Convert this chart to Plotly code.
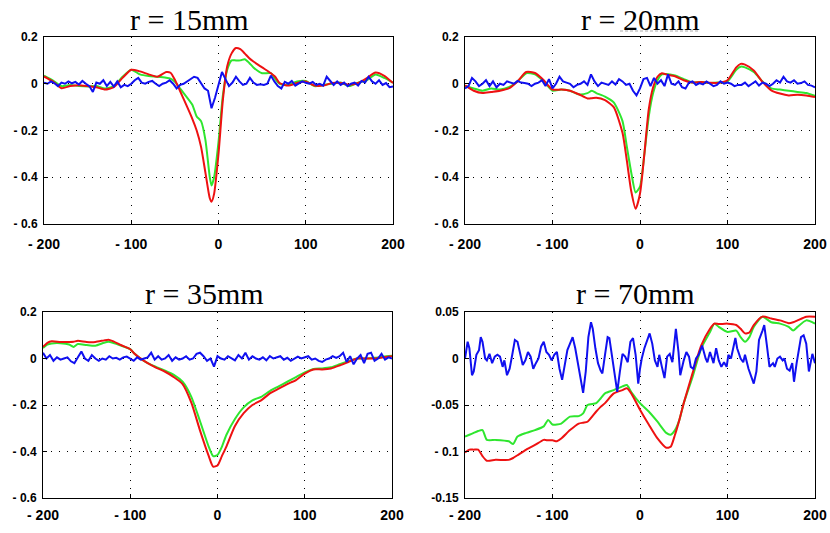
import numpy as np
import plotly.graph_objects as go

W, H = 830, 533

# ---------------- data ----------------
titles = ["r = 15mm", "r = 20mm", "r = 35mm", "r = 70mm"]

# r = 15mm
x15 = [-200, -190, -180, -170, -160, -150, -140, -130, -120, -110, -100, -90, -80, -70, -60, -55, -50,
       -40, -30, -25, -20, -15, -10, -8, -5, 0, 5, 10, 15, 20, 25, 30, 35, 40, 50, 60, 65, 70, 80, 90,
       100, 110, 120, 130, 140, 150, 160, 170, 180, 190, 200]
red15 = [0.031, 0.01, -0.019, -0.01, -0.006, -0.01, -0.015, -0.025, -0.015, 0.025, 0.06, 0.053, 0.04,
         0.03, 0.05, 0.047, 0.017, -0.065, -0.15, -0.2, -0.27, -0.38, -0.49, -0.505, -0.47, -0.3, -0.07,
         0.075, 0.13, 0.153, 0.148, 0.13, 0.11, 0.095, 0.07, 0.045, 0.03, 0.003, -0.008, 0.003, 0.01,
         -0.008, -0.008, 0.003, 0.003, -0.004, 0.003, 0.024, 0.048, 0.034, 0.003]
green15 = [0.035, 0.015, -0.01, -0.005, -0.01, -0.012, -0.01, -0.02, -0.01, 0.03, 0.06, 0.04, 0.033,
           0.03, 0.026, 0.022, 0.008, -0.04, -0.09, -0.14, -0.16, -0.24, -0.40, -0.435, -0.40, -0.25,
           -0.05, 0.06, 0.1, 0.1, 0.1, 0.105, 0.09, 0.07, 0.045, 0.045, 0.02, 0.0, -0.005, 0.01, 0.012,
           -0.01, -0.005, 0.0, 0.005, -0.01, 0.005, 0.015, 0.04, 0.025, 0.005]
blue15 = [0.005, 0.0, 0.01, 0.002, -0.01, 0.005, 0.0, 0.01, 0.002, 0.008, -0.003, 0.012, 0.0, -0.01,
          -0.035, 0.005, 0.0, 0.015, -0.01, 0.008, -0.012, 0.01, -0.015, -0.005, -0.01, 0.0, 0.015,
          0.025, 0.005, 0.0, 0.008, 0.012, 0.0, -0.01, 0.0, 0.005, 0.015, 0.0, -0.02, -0.005, 0.0, 0.01,
          0.022, 0.03, 0.025, 0.0, -0.02, -0.03, -0.105, -0.06, 0.0, 0.05, 0.02, -0.01, 0.005, 0.03,
          0.01, -0.005, 0.0, 0.025, 0.005, -0.005, -0.002, -0.005, 0.0, 0.035, 0.01, -0.01, -0.02, 0.008,
          0.0, 0.012, -0.008, 0.0, 0.01, 0.004, 0.0, 0.008, -0.005, 0.0, -0.008, 0.03, 0.01, -0.005,
          0.01, -0.005, 0.005, -0.01, 0.0, 0.005, -0.008, 0.012, 0.005, 0.03, 0.01, 0.0, 0.015, -0.005,
          0.003, -0.015, -0.012]

# r = 20mm
x20 = [-200, -190, -180, -170, -160, -150, -140, -130, -120, -110, -100, -90, -80, -70, -60, -55, -50,
       -40, -30, -20, -15, -10, -5, 0, 5, 10, 15, 20, 25, 30, 40, 50, 60, 70, 80, 90, 100, 110, 115,
       120, 130, 140, 150, 160, 170, 180, 190, 200]
red20 = [-0.007, -0.03, -0.04, -0.035, -0.03, -0.02, 0.01, 0.05, 0.046, 0.015, -0.025, -0.025, -0.03,
         -0.045, -0.063, -0.062, -0.06, -0.07, -0.1, -0.21, -0.33, -0.46, -0.535, -0.47, -0.3, -0.11,
         -0.015, 0.03, 0.045, 0.04, 0.032, 0.015, 0.005, 0.007, 0.004, 0.004, 0.015, 0.07, 0.085, 0.082,
         0.057, 0.008, -0.028, -0.042, -0.05, -0.047, -0.05, -0.057]
green20 = [-0.01, -0.02, -0.03, -0.02, -0.025, -0.015, 0.01, 0.045, 0.04, 0.01, -0.03, -0.025, -0.03,
           -0.045, -0.04, -0.03, -0.04, -0.055, -0.08, -0.16, -0.27, -0.38, -0.465, -0.44, -0.3, -0.14,
           -0.04, 0.015, 0.04, 0.042, 0.035, 0.02, 0.005, 0.008, 0.003, 0.005, 0.01, 0.06, 0.073, 0.07,
           0.05, 0.01, -0.02, -0.025, -0.03, -0.035, -0.04, -0.052]
blue20 = [-0.02, -0.01, 0.025, 0.01, -0.01, 0.0, 0.015, -0.01, 0.01, -0.015, 0.0, -0.005, 0.01, 0.005,
          0.0, 0.012, 0.005, 0.003, 0.0, -0.01, 0.0, 0.005, 0.015, -0.01, 0.02, -0.02, 0.0, 0.03, 0.01,
          0.005, 0.0, -0.015, -0.005, 0.0, 0.01, -0.005, 0.04, 0.01, -0.01, 0.005, 0.0, -0.005, 0.01,
          -0.003, 0.02, 0.01, -0.005, 0.0, -0.03, -0.05, -0.02, 0.02, 0.025, -0.01, 0.025, 0.0, 0.015,
          -0.01, 0.04, 0.0, -0.005, 0.01, -0.015, -0.02, 0.005, 0.01, -0.005, 0.003, -0.003, 0.01, 0.0,
          -0.01, -0.005, 0.01, 0.0, 0.005, 0.0, -0.01, -0.005, -0.005, 0.005, -0.01, 0.0, 0.01, -0.008,
          0.005, 0.0, -0.01, 0.0, 0.015, 0.005, 0.03, 0.01, 0.005, 0.015, 0.0, 0.003, 0.01, -0.005,
          -0.008, -0.015]

# r = 35mm
x35 = [-200, -195, -190, -180, -170, -165, -160, -150, -140, -130, -125, -120, -110, -100, -95, -90,
       -80, -70, -60, -50, -40, -30, -20, -10, -5, 0, 5, 10, 20, 30, 40, 50, 60, 70, 80, 90, 100, 110,
       120, 130, 140, 150, 160, 170, 180, 190, 200]
red35 = [0.05, 0.067, 0.074, 0.071, 0.071, 0.072, 0.076, 0.071, 0.071, 0.078, 0.081, 0.075, 0.057, 0.04,
         0.02, 0.005, -0.02, -0.04, -0.057, -0.08, -0.11, -0.19, -0.31, -0.42, -0.465, -0.46, -0.42,
         -0.38, -0.29, -0.235, -0.2, -0.18, -0.15, -0.13, -0.11, -0.093, -0.065, -0.047, -0.047, -0.043,
         -0.03, -0.015, 0.0, 0.0, 0.0, 0.005, 0.01]
green35 = [0.045, 0.06, 0.065, 0.066, 0.06, 0.05, 0.062, 0.058, 0.055, 0.068, 0.072, 0.068, 0.055, 0.04,
           0.02, 0.005, -0.02, -0.037, -0.052, -0.07, -0.1, -0.165, -0.27, -0.38, -0.42, -0.415, -0.38,
           -0.33, -0.26, -0.21, -0.18, -0.165, -0.14, -0.12, -0.1, -0.08, -0.06, -0.045, -0.043, -0.038,
           -0.025, -0.012, 0.0, 0.0, 0.003, 0.008, 0.012]
blue35 = [0.025, 0.0, 0.015, -0.01, 0.005, -0.005, 0.0, 0.005, -0.012, -0.02, 0.005, 0.03, 0.0, -0.01,
          0.015, 0.0, -0.01, 0.0, -0.005, 0.01, 0.0, 0.003, -0.005, 0.005, 0.008, 0.0, -0.01, 0.005,
          -0.005, 0.0, 0.005, 0.025, -0.005, 0.01, -0.005, 0.0, 0.015, -0.01, 0.005, -0.005, 0.0, 0.01,
          -0.005, 0.0, 0.02, 0.025, 0.01, -0.01, 0.0, -0.035, 0.01, 0.0, -0.005, 0.01, 0.0, -0.008, 0.015,
          0.0, 0.025, -0.005, 0.01, 0.0, -0.005, 0.005, -0.008, 0.01, 0.0, 0.005, 0.01, -0.005, 0.003,
          -0.01, 0.0, 0.008, 0.0, 0.005, 0.01, -0.005, 0.0, -0.01, -0.015, -0.005, 0.0, 0.01, 0.003, 0.01,
          0.025, -0.015, 0.01, -0.025, 0.0, 0.015, -0.02, 0.02, 0.025, -0.01, 0.0, 0.02, -0.005, 0.005,
          0.0]

# r = 70mm
x70 = [-200, -195, -190, -185, -180, -175, -165, -150, -145, -140, -130, -120, -110, -105, -100, -95,
       -90, -80, -70, -65, -60, -50, -45, -40, -30, -20, -15, -10, 0, 10, 20, 30, 35, 40, 45, 50, 60,
       70, 80, 85, 90, 100, 110, 115, 120, 125, 130, 140, 150, 160, 170, 175, 180, 190, 200]
red70 = [-0.101, -0.098, -0.098, -0.098, -0.105, -0.11, -0.109, -0.109, -0.107, -0.104, -0.098, -0.093,
         -0.0875, -0.088, -0.088, -0.089, -0.086, -0.077, -0.07, -0.069, -0.068, -0.057, -0.052, -0.048,
         -0.0375, -0.034, -0.032, -0.0375, -0.055, -0.071, -0.086, -0.096, -0.095, -0.082, -0.066,
         -0.048, -0.016, 0.014, 0.032, 0.0375, 0.037, 0.0375, 0.036, 0.032, 0.027, 0.028, 0.036, 0.045,
         0.043, 0.041, 0.038, 0.039, 0.041, 0.045, 0.045]
green70 = [-0.084, -0.082, -0.08, -0.078, -0.077, -0.0875, -0.0875, -0.089, -0.092, -0.084, -0.08,
           -0.077, -0.073, -0.066, -0.071, -0.071, -0.07, -0.0625, -0.062, -0.059, -0.05, -0.048, -0.043,
           -0.0375, -0.034, -0.03, -0.0285, -0.036, -0.048, -0.057, -0.068, -0.08, -0.082, -0.077,
           -0.066, -0.048, -0.02, 0.011, 0.0285, 0.0375, 0.034, 0.0285, 0.03, 0.023, 0.018, 0.023, 0.034,
           0.045, 0.039, 0.0375, 0.034, 0.03, 0.034, 0.041, 0.0375]
xb70 = [-200, -197, -195, -192, -190, -187, -184, -182, -180, -177, -175, -172, -169, -166, -163, -160,
        -157, -155, -152, -149, -146, -143, -140, -137, -134, -131, -128, -125, -122, -119, -116, -113,
        -110, -107, -104, -101, -98, -95, -92, -89, -86, -83, -80, -77, -74, -71, -68, -65, -62, -59,
        -56, -54, -51, -48, -45, -43, -40, -37, -35, -32, -29, -26, -23, -20, -17, -14, -11, -8, -5, -2,
        0, 2, 5, 8, 11, 14, 17, 20, 22, 25, 28, 31, 34, 37, 39, 41, 44, 46, 50, 53, 56, 58, 61, 64, 67,
        71, 75, 77, 80, 84, 87, 90, 93, 96, 99, 101, 104, 107, 109, 111, 115, 118, 120, 124, 128, 130,
        133, 136, 140, 142, 145, 148, 152, 154, 157, 160, 163, 165, 168, 171, 174, 176, 179, 182, 184,
        187, 190, 193, 195, 197, 200]
blue70 = [0.0, 0.018, 0.011, -0.018, -0.014, 0.004, 0.009, 0.023, 0.018, 0.0, -0.002, 0.005, -0.005,
          0.002, 0.004, 0.002, -0.009, -0.002, -0.018, -0.011, 0.004, 0.02, 0.018, 0.007, -0.007, -0.002,
          0.007, 0.002, -0.011, -0.005, 0.0, 0.013, 0.018, 0.007, 0.004, -0.002, 0.004, 0.007, -0.011,
          -0.023, -0.007, 0.009, 0.016, 0.023, 0.011, -0.005, -0.018, -0.037, -0.014, 0.023, 0.039,
          0.032, 0.011, -0.005, -0.013, -0.016, 0.004, 0.023, 0.022, 0.004, -0.013, -0.036, -0.014, 0.005,
          0.002, -0.004, 0.018, 0.022, 0.004, -0.027, -0.011, 0.0, 0.011, 0.02, 0.027, 0.016, -0.002,
          -0.009, 0.004, -0.009, -0.021, 0.002, 0.005, -0.004, 0.013, 0.032, 0.007, -0.018, -0.002, 0.007,
          0.002, -0.009, -0.011, 0.0, 0.004, 0.014, 0.0, -0.004, 0.007, -0.005, 0.011, -0.002, -0.009,
          -0.004, -0.009, 0.004, 0.0, 0.014, 0.022, 0.011, 0.0, -0.004, 0.004, -0.011, -0.023, -0.027,
          -0.014, 0.02, 0.03, 0.036, 0.014, -0.009, -0.005, -0.009, 0.0, 0.002, -0.002, 0.0, -0.011,
          -0.013, -0.005, -0.025, -0.005, 0.014, 0.023, 0.025, 0.016, -0.014, -0.004, 0.005, -0.005]

# tick values / labels
xtick_vals = [-200, -100, 0, 100, 200]
xtick_text = ["- 200", "- 100", "0", "100", "200"]
ytick_vals_a = [0.2, 0, -0.2, -0.4, -0.6]
ytick_text_a = ["0.2", "0", "- 0.2", "- 0.4", "- 0.6"]
ytick_vals_b = [0.05, 0, -0.05, -0.1, -0.15]
ytick_text_b = ["0.05", "0", "-0.05", "- 0.1", "-0.15"]

RED, GREEN, BLUE = "#ee1111", "#2ee62e", "#1010f0"

# ---------------- layout (pixel boxes of the plot areas) ----------------
boxes = [(44, 393, 37, 224), (465, 815, 37, 224), (43, 392, 312, 498), (465, 815, 312, 498)]
title_pos = [(189, 19), (640, 19), (204, 293), (635, 293)]
xlabel_standoff = [7, 7, 4, 4]

panels = [
    (x15, red15, green15, np.linspace(-200, 200, len(blue15)), blue15, ytick_vals_a, ytick_text_a, [-0.6, 0.2]),
    (x20, red20, green20, np.linspace(-200, 200, len(blue20)), blue20, ytick_vals_a, ytick_text_a, [-0.6, 0.2]),
    (x35, red35, green35, np.linspace(-200, 200, len(blue35)), blue35, ytick_vals_a, ytick_text_a, [-0.6, 0.2]),
    (x70, red70, green70, xb70, blue70, ytick_vals_b, ytick_text_b, [-0.15, 0.05]),
]

fig = go.Figure()
layout = dict(width=W, height=H, margin=dict(l=0, r=0, t=0, b=0, autoexpand=False),
              paper_bgcolor="white", plot_bgcolor="white", showlegend=False,
              font=dict(family="Liberation Sans, Arial", size=12, color="black"))
annotations = []
ytick_font = dict(family="Liberation Sans, Arial", size=12, color="black", weight="bold")
xtick_font = dict(family="Liberation Sans, Arial", size=14, color="black", weight="bold")

for i, (xr, r, g, xb, b, yv, yt, yr) in enumerate(panels):
    n = "" if i == 0 else str(i + 1)
    xa, ya = "x" + n, "y" + n
    fig.add_trace(go.Scatter(x=xr, y=g, mode="lines", line=dict(color=GREEN, width=2, shape="spline", smoothing=0.6),
                             xaxis=xa, yaxis=ya, hoverinfo="skip"))
    fig.add_trace(go.Scatter(x=xr, y=r, mode="lines", line=dict(color=RED, width=2, shape="spline", smoothing=0.6),
                             xaxis=xa, yaxis=ya, hoverinfo="skip"))
    fig.add_trace(go.Scatter(x=xb, y=b, mode="lines", line=dict(color=BLUE, width=2),
                             xaxis=xa, yaxis=ya, hoverinfo="skip"))
    x0, x1, y0, y1 = boxes[i]
    common = dict(showline=True, linecolor="black", linewidth=1, mirror=True,
                  showgrid=True, gridcolor="black", gridwidth=1, griddash="1px,7px",
                  zeroline=False, ticks="inside", ticklen=4, tickcolor="black",
                  fixedrange=True, automargin=False)
    layout["xaxis" + n] = dict(common, domain=[x0 / W, x1 / W], range=[-200, 200], tickfont=xtick_font,
                               tickvals=xtick_vals, ticktext=xtick_text, anchor=ya,
                               ticklabelstandoff=xlabel_standoff[i])
    layout["yaxis" + n] = dict(common, domain=[1 - y1 / H, 1 - y0 / H], range=yr, tickfont=ytick_font,
                               tickvals=yv, ticktext=yt, anchor=xa, ticklabelstandoff=3)
    tx, ty = title_pos[i]
    annotations.append(dict(text=titles[i], x=tx / W, y=1 - ty / H, xref="paper", yref="paper",
                            xanchor="center", yanchor="middle", showarrow=False,
                            font=dict(family="Liberation Serif, Times New Roman, serif", size=30, color="black")))

layout["annotations"] = annotations
# faint scan underline beneath the second title
layout["shapes"] = [dict(type="line", xref="paper", yref="paper", x0=620 / W, x1=698 / W,
                         y0=1 - 31 / H, y1=1 - 31 / H, line=dict(color="#c8c8c8", width=1.5, dash="3px,2px"))]
fig.update_layout(**layout)
fig.write_html("out.html", config={"displayModeBar": False},
               post_script="document.body.style.margin='0px';document.body.style.overflow='hidden';")
